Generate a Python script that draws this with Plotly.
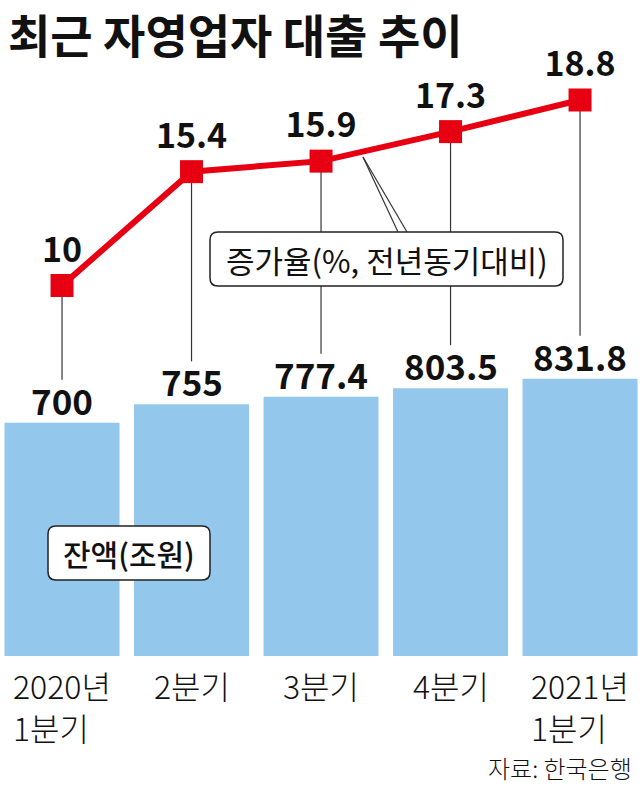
import plotly.graph_objects as go

# ---- data ----
categories = ["2020년 1분기", "2분기", "3분기", "4분기", "2021년 1분기"]
cat_labels = ["2020년<br>1분기", "2분기", "3분기", "4분기", "2021년<br>1분기"]
balance = [700, 755, 777.4, 803.5, 831.8]          # 잔액(조원)
growth = [10, 15.4, 15.9, 17.3, 18.8]               # 증가율(%, 전년동기대비)
balance_text = ["700", "755", "777.4", "803.5", "831.8"]
growth_text = ["10", "15.4", "15.9", "17.3", "18.8"]

# ---- layout constants ----
W, H = 640, 786
PLOT_H = 656                 # plot area height in px (bottom margin below)
Y_MAX = 1968                 # bar axis: 3 units per px
Y2_MIN, Y2_MAX = -7.576, 23.544
RED = "#E60012"
BLUE = "#93C8EC"
FONT = "Noto Sans CJK KR"

x_idx = list(range(len(categories)))


def P(px, py):
    return px / W, (PLOT_H - py) / PLOT_H


def y2_from_px(py):
    return Y2_MAX - py / PLOT_H * (Y2_MAX - Y2_MIN)


def px_from_y(v):
    return PLOT_H - v / Y_MAX * PLOT_H


fig = go.Figure()

fig.add_trace(go.Bar(
    x=x_idx, y=balance, marker=dict(color=BLUE, line=dict(width=0)),
    hoverinfo="skip",
))

fig.add_trace(go.Scatter(
    x=x_idx, y=growth, yaxis="y2", mode="lines+markers+text",
    line=dict(color=RED, width=6),
    marker=dict(symbol="square", size=23, color=RED),
    text=growth_text, textposition="top center", cliponaxis=False,
    textfont=dict(family=FONT, size=34, color="#111", weight=700),
    hoverinfo="skip",
))

shapes = []
# leader lines from markers down to bar labels
for i, (b, g) in enumerate(zip(balance, growth)):
    end_px = px_from_y(b) - 43
    shapes.append(dict(type="line", xref="x", yref="y2", x0=i, x1=i,
                       y0=g, y1=y2_from_px(end_px),
                       line=dict(color="#333", width=1.2), layer="below"))

# diagonal pointers from growth label box to the line
for ex in (398, 407):
    x0, y0 = P(363, 157)
    x1, y1 = P(ex, 232)
    shapes.append(dict(type="line", xref="paper", yref="paper",
                       x0=x0, y0=y0, x1=x1, y1=y1,
                       line=dict(color="#333", width=1.2), layer="below"))


def rrect(x0, y0, x1, y1, r):
    def p(px, py):
        a, b = P(px, py)
        return f"{a:.5f},{b:.5f}"
    path = (f"M {p(x0 + r, y0)} L {p(x1 - r, y0)} Q {p(x1, y0)} {p(x1, y0 + r)} "
            f"L {p(x1, y1 - r)} Q {p(x1, y1)} {p(x1 - r, y1)} "
            f"L {p(x0 + r, y1)} Q {p(x0, y1)} {p(x0, y1 - r)} "
            f"L {p(x0, y0 + r)} Q {p(x0, y0)} {p(x0 + r, y0)} Z")
    return dict(type="path", xref="paper", yref="paper", path=path,
                fillcolor="white", line=dict(color="#222", width=1.5),
                layer="above")


shapes.append(rrect(210, 232, 563, 286, 8))
shapes.append(rrect(48, 526, 210, 580, 8))

annotations = []
# bar value labels
for i, (b, t) in enumerate(zip(balance, balance_text)):
    annotations.append(dict(xref="x", yref="y", x=i, y=b, xanchor="center",
                            yanchor="bottom", yshift=-4, showarrow=False, text=t,
                            font=dict(family=FONT, size=35, color="#111", weight=700)))

tx, ty = P(6, 33)
annotations.append(dict(xref="paper", yref="paper", x=tx, y=ty, xanchor="left",
                        yanchor="middle", showarrow=False,
                        text="최근 자영업자 대출 추이",
                        font=dict(family=FONT, size=46, color="#111", weight=700)))
bx, by = P(387, 259)
annotations.append(dict(xref="paper", yref="paper", x=bx, y=by, xanchor="center",
                        yanchor="middle", showarrow=False,
                        text="증가율(%, 전년동기대비)",
                        font=dict(family=FONT, size=31, color="#111")))
bx, by = P(129, 553)
annotations.append(dict(xref="paper", yref="paper", x=bx, y=by, xanchor="center",
                        yanchor="middle", showarrow=False,
                        text="잔액(조원)",
                        font=dict(family=FONT, size=30, color="#111", weight=500)))
for i, lab in enumerate(cat_labels):
    _, ly = P(0, 660)
    annotations.append(dict(xref="x", yref="paper", x=i, y=ly, xanchor="center",
                            yanchor="top", align="left", showarrow=False,
                            text=lab,
                            font=dict(family=FONT, size=32, color="#111", weight=300)))
sx, sy = P(634, 767)
annotations.append(dict(xref="paper", yref="paper", x=sx, y=sy, xanchor="right",
                        yanchor="middle", showarrow=False, text="자료: 한국은행",
                        font=dict(family=FONT, size=24, color="#111", weight=300)))

fig.update_layout(
    width=W, height=H,
    margin=dict(l=0, r=0, t=0, b=H - PLOT_H),
    paper_bgcolor="white", plot_bgcolor="white",
    showlegend=False, bargap=0.112,
    xaxis=dict(range=[-0.479, 4.463], showticklabels=False, showgrid=False,
               zeroline=False, showline=False, ticks=""),
    yaxis=dict(range=[0, Y_MAX], visible=False, showgrid=False, zeroline=False),
    yaxis2=dict(range=[Y2_MIN, Y2_MAX], overlaying="y", visible=False,
                showgrid=False, zeroline=False),
    shapes=shapes, annotations=annotations,
)

fig.write_html("out.html")
